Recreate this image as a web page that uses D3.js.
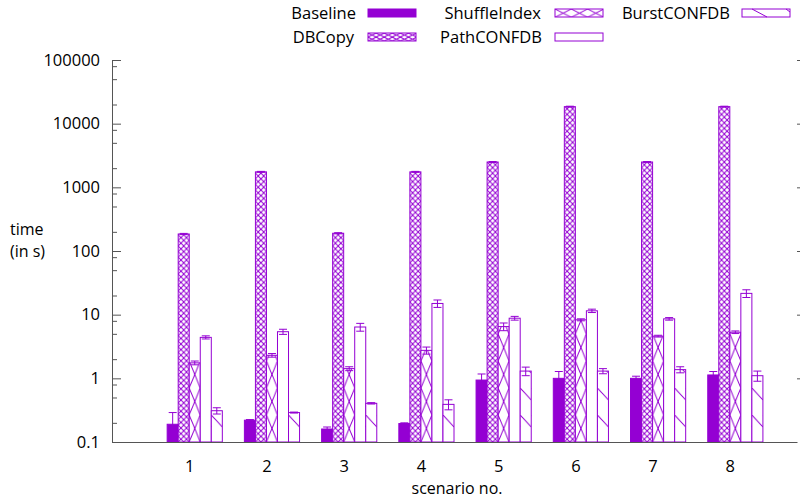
<!DOCTYPE html>
<html><head><meta charset="utf-8">
<script src="https://cdn.jsdelivr.net/npm/d3@7"></script>
<style>body{margin:0;background:#fff} text{font-family:"Open Sans",sans-serif;fill:#000}</style>
</head><body><svg id="c" width="800" height="501"></svg>
<script>
// ---- data ----
const categories = [1, 2, 3, 4, 5, 6, 7, 8];
const seriesNames = ['Baseline', 'DBCopy', 'ShuffleIndex', 'PathCONFDB', 'BurstCONFDB'];
const baseline    = [0.19, 0.22, 0.16, 0.195, 0.94, 1.0, 1.0, 1.13];
const baselineErr = [0.1, 0.005, 0.012, 0.005, 0.23, 0.28, 0.08, 0.15];
const dbcopy      = [185, 1750, 190, 1750, 2500, 18500, 2500, 18500];
const dbcopyErr   = [4, 30, 4, 30, 40, 300, 40, 300];
const shuffle     = [1.75, 2.3, 1.42, 2.75, 6.5, 8.3, 4.6, 5.3];
const shuffleErr  = [0.12, 0.15, 0.1, 0.35, 0.9, 0.3, 0.15, 0.25];
const pathConf    = [4.4, 5.4, 6.4, 15, 8.8, 11.5, 8.6, 21.6];
const pathErr     = [0.25, 0.5, 0.9, 2, 0.6, 0.7, 0.4, 3];
const burst       = [0.31, 0.29, 0.405, 0.39, 1.3, 1.3, 1.37, 1.1];
const burstErr    = [0.035, 0.005, 0.01, 0.07, 0.2, 0.12, 0.15, 0.2];
const yTickValues = [0.1, 1, 10, 100, 1000, 10000, 100000];
const yTickLabels = ['0.1', '1', '10', '100', '1000', '10000', '100000'];
const yMinorTicks = [0.2, 0.5, 0.8, 2, 5, 8, 20, 50, 80, 200, 500, 800, 2000, 5000, 8000, 20000, 50000, 80000];
const xTickLabels = ['1', '2', '3', '4', '5', '6', '7', '8'];

const values = [baseline, dbcopy, shuffle, pathConf, burst];
const errors = [baselineErr, dbcopyErr, shuffleErr, pathErr, burstErr];

// ---- layout ----
const C = '#9400d3';
const L = 112, R = 797, T = 60, B = 442;
const svg = d3.select('#c');
const x = d3.scaleLinear().domain([0, 8.87]).range([L, R]);
const y = d3.scaleLog().domain([0.1, 100000]).range([B, T]);
const bw = x(1/7) - x(0);
const barX = (c, s) => x(c + (s - 2) / 7);

const defs = svg.append('defs');
defs.append('clipPath').attr('id', 'plot').append('rect')
  .attr('x', L).attr('y', T).attr('width', R - L).attr('height', B - T);

function pat(id, w, h, lines, ox, oy) {
  const p = defs.append('pattern').attr('id', id).attr('patternUnits', 'userSpaceOnUse')
    .attr('width', w).attr('height', h).attr('x', ox).attr('y', oy);
  p.append('rect').attr('width', w).attr('height', h).attr('fill', '#fff');
  lines.forEach(l => p.append('line').attr('x1', l[0]).attr('y1', l[1]).attr('x2', l[2]).attr('y2', l[3])
    .attr('stroke', C).attr('stroke-width', 1));
}
const ox = barX(1, 0);
// dense crosshatch
const dw = bw / 2, dh = 5.6;
pat('pDB', dw, dh, [[0, 0, dw, dh], [dw, 0, 0, dh]], ox, B);
// big X
const sh = 27;
pat('pSH', bw, sh, [[0, 0, bw, sh], [bw, 0, 0, sh]], ox, B);
// single diagonal
pat('pBU', bw, sh, [[0, 0, bw, 12]], ox, B);
// legend patterns
pat('lDB', 8.1, 4.1, [[0, 0, 8.1, 4.1], [8.1, 0, 0, 4.1]], 368, 9);
pat('lSH', 16.3, 8.3, [[0, 0, 16.3, 8.3], [16.3, 0, 0, 8.3]], 555, 9);

const fills = [C, 'url(#pDB)', 'url(#pSH)', '#fff', 'url(#pBU)'];

// ---- axes ----
const yAxis = d3.axisLeft(y).tickValues(yTickValues)
  .tickFormat((d, i) => yTickLabels[i]).tickSizeInner(-9).tickSizeOuter(0).tickPadding(12);
const gy = svg.append('g').attr('transform', `translate(${L},0)`).call(yAxis);
gy.selectAll('text').style('font-size', '16.5px');
const gyMinor = svg.append('g').attr('transform', `translate(${L},0)`)
  .call(d3.axisLeft(y).tickValues(yMinorTicks).tickFormat('').tickSizeInner(-5).tickSizeOuter(0));
gyMinor.select('.domain').remove();
// right mirror ticks
const gyR = svg.append('g').attr('transform', `translate(${R + 4},0)`)
  .call(d3.axisLeft(y).tickValues(yTickValues.slice(1)).tickFormat('').tickSizeInner(-4).tickSizeOuter(0));
gyR.select('.domain').remove();
gyR.attr('transform', `translate(${R},0)`);

const xAxis = d3.axisBottom(x).tickValues(categories)
  .tickFormat((d, i) => xTickLabels[i]).tickSize(0).tickPadding(18);
const gx = svg.append('g').attr('transform', `translate(0,${B})`).call(xAxis);
gx.selectAll('text').style('font-size', '16.5px');
[gy, gyMinor, gyR, gx].forEach(g => {
  g.selectAll('.domain, line').attr('stroke', '#555').attr('stroke-width', 1);
});

// ---- bars ----
const plot = svg.append('g').attr('clip-path', 'url(#plot)');
values.forEach((vals, s) => {
  const g = plot.append('g');
  g.selectAll('rect').data(vals).join('rect')
    .attr('x', (d, i) => barX(categories[i], s))
    .attr('y', d => y(d))
    .attr('width', bw)
    .attr('height', d => B - y(d))
    .attr('fill', fills[s])
    .attr('stroke', C).attr('stroke-width', 1);
  // error bars
  const eg = plot.append('g').attr('stroke', C).attr('stroke-width', 1);
  vals.forEach((v, i) => {
    const e = errors[s][i];
    const cx = barX(categories[i], s) + bw / 2;
    const y1 = y(v + e), y0 = y(Math.max(v - e, 0.05));
    eg.append('line').attr('x1', cx).attr('x2', cx).attr('y1', y1).attr('y2', y0);
    eg.append('line').attr('x1', cx - 4).attr('x2', cx + 4).attr('y1', y1).attr('y2', y1);
    eg.append('line').attr('x1', cx - 4).attr('x2', cx + 4).attr('y1', y0).attr('y2', y0);
  });
});

// ---- labels ----
svg.append('text').attr('x', 10).attr('y', 235).style('font-size', '16px').text('time');
svg.append('text').attr('x', 10).attr('y', 257).style('font-size', '16px').text('(in s)');
svg.append('text').attr('x', 457).attr('y', 494).attr('text-anchor', 'middle').style('font-size', '16px').text('scenario no.');

// ---- legend ----
const legendPos = [
  {tx: 356, ty: 19, bx: 368, by: 9},
  {tx: 354, ty: 43, bx: 368, by: 33},
  {tx: 541, ty: 19, bx: 555, by: 9},
  {tx: 542, ty: 43, bx: 555, by: 33},
  {tx: 730, ty: 19, bx: 742, by: 9}
];
const legendFill = [C, 'url(#lDB)', 'url(#lSH)', '#fff', '#fff'];
const lg = svg.append('g');
seriesNames.forEach((n, s) => {
  const p = legendPos[s];
  lg.append('text').attr('x', p.tx).attr('y', p.ty).attr('text-anchor', 'end').style('font-size', '16.5px').text(n);
  const bx = s === 1 ? 368 : p.bx, by = s === 1 ? 33 : p.by;
  if (s === 1) defs.select('#lDB').attr('y', 33);
  if (s === 3) {}
  lg.append('rect').attr('x', bx).attr('y', by).attr('width', 48).attr('height', 8)
    .attr('fill', legendFill[s]).attr('stroke', C).attr('stroke-width', 1);
  if (s === 4) {
    lg.append('line').attr('x1', bx + 10).attr('y1', by).attr('x2', bx + 25).attr('y2', by + 8).attr('stroke', C);
    lg.append('line').attr('x1', bx + 44).attr('y1', by).attr('x2', bx + 48).attr('y2', by + 3).attr('stroke', C);
  }
});
</script></body></html>
